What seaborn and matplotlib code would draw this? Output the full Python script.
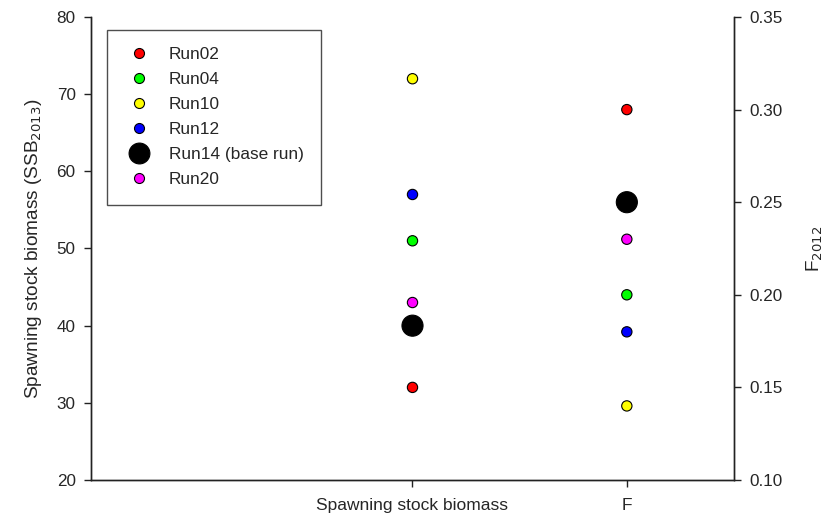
import matplotlib
matplotlib.use("Agg")
import matplotlib.pyplot as plt
import seaborn as sns
import pandas as pd
from matplotlib.lines import Line2D

runs = ["Run02", "Run04", "Run10", "Run12", "Run14", "Run20"]
legend_labels = ["Run02", "Run04", "Run10", "Run12", "Run14 (base run)", "Run20"]
colors = ["#ff0000", "#00ff00", "#ffff00", "#0000ff", "#000000", "#ff00ff"]
ssb_values = [32, 51, 72, 57, 40, 43]
f_values = [0.30, 0.20, 0.14, 0.18, 0.25, 0.23]
categories = ["", "Spawning stock biomass", "F"]

sns.set_theme(style="ticks")
plt.rcParams["font.family"] = ["Liberation Sans", "DejaVu Sans"]

fig = plt.figure(figsize=(8.29, 5.17), dpi=100)
ax = fig.add_axes([91/829, 1-480/517, (734-91)/829, (480-17)/517])
ax2 = ax.twinx()

pos = {c: i for i, c in enumerate(categories)}
df_ssb = pd.DataFrame({"run": runs, "value": ssb_values, "x": pos["Spawning stock biomass"]})
df_f = pd.DataFrame({"run": runs, "value": f_values, "x": pos["F"]})

palette = dict(zip(runs, colors))
sizes = {r: (230 if r == "Run14" else 55) for r in runs}

sns.scatterplot(data=df_ssb, x="x", y="value", hue="run", size="run", palette=palette,
                sizes=sizes, edgecolor="black", linewidth=0.8, ax=ax, legend=False, zorder=3)
sns.scatterplot(data=df_f, x="x", y="value", hue="run", size="run", palette=palette,
                sizes=sizes, edgecolor="black", linewidth=0.8, ax=ax2, legend=False, zorder=3)

ax.set_xlim(-0.5, 2.5)
ax.set_xticks([1, 2])
ax.set_xticklabels(categories[1:])
ax.set_ylim(20, 80)
ax.set_yticks(range(20, 81, 10))
ax2.set_ylim(0.10, 0.35)
fticks = [0.10, 0.15, 0.20, 0.25, 0.30, 0.35]
ax2.set_yticks(fticks)
ax2.set_yticklabels([f"{v:.2f}" for v in fticks])

for a in (ax, ax2):
    a.spines["top"].set_visible(False)
    for s in a.spines.values():
        s.set_linewidth(1.0)
        s.set_color("#222222")
    a.tick_params(axis="both", labelsize=12.3, length=5, width=1.0, color="#222222",
                  direction="out", pad=6)
ax.tick_params(axis="x", labelsize=12.5, pad=8)
ax.set_xlabel("")
ax.set_ylabel("Spawning stock biomass (SSB$_{2013}$)", fontsize=13.7, labelpad=9)
ax2.set_ylabel("F$_{2012}$", fontsize=13.7, labelpad=16)

handles = []
for r, c in zip(runs, colors):
    ms = 15 if r == "Run14" else 7.2
    handles.append(Line2D([], [], marker="o", linestyle="none", markerfacecolor=c,
                          markeredgecolor="black", markeredgewidth=0.8, markersize=ms))
leg = ax.legend(handles, legend_labels, loc="upper left", bbox_to_anchor=(0.025, 0.972),
                borderaxespad=0, frameon=True, fancybox=False, fontsize=12.4,
                handletextpad=0.85, labelspacing=0.58, borderpad=1.0, handlelength=1.75)
leg.get_frame().set_edgecolor("#222222")
leg.get_frame().set_linewidth(1.0)

fig.savefig("out.png", dpi=100)
